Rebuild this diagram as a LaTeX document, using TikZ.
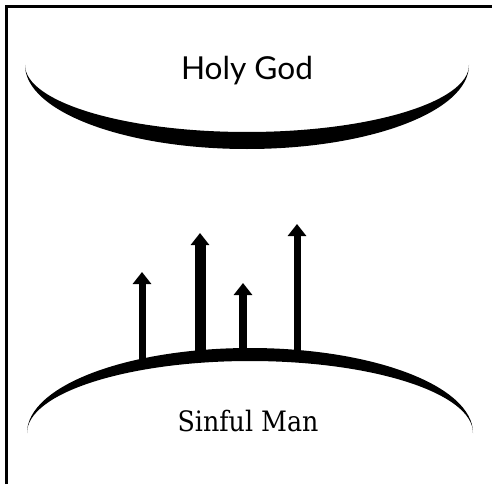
\documentclass[tikz,border=0pt]{standalone}
\usepackage{fontspec}
\setmainfont{Lato}
\newfontfamily\manfont{DejaVu Serif Condensed}
\usetikzlibrary{arrows.meta}

\begin{document}
\begin{tikzpicture}[x=0.02cm, y=0.02cm,
    lift/.style={line width=#1, -{Triangle[width=0.36cm, length=0.24cm]}},
    lift/.default=0.14cm]
            \useasboundingbox (0,0) rectangle (492,484);
            \draw[line width=0.07cm] (6.5,0) -- (6.5,477.5) -- (492,477.5);

            \node (god) at (247,413) {\fontsize{18}{21}\selectfont Holy God};
            \node (man) at (248,63) {\manfont\fontsize{16}{19}\selectfont Sinful Man};

            \coordinate (b1) at (142,120);
            \coordinate (t1) at (142,212);
            \coordinate (b2) at (200,125);
            \coordinate (t2) at (200,251);
            \coordinate (b3) at (243,128);
            \coordinate (t3) at (243,201);
            \coordinate (b4) at (297,128);
            \coordinate (t4) at (297,260);

            \draw[lift] (b1) -- (t1);
            \draw[lift=0.22cm] (b2) -- (t2);
            \draw[lift=0.16cm] (b3) -- (t3);
            \draw[lift] (b4) -- (t4);

            \fill (25,419) arc[start angle=180, end angle=360, x radius=222, y radius=84]
                -- (469,419) arc[start angle=360, end angle=180, x radius=222, y radius=67] -- cycle;
            \fill (27,51) arc[start angle=180, end angle=0, x radius=223, y radius=85]
                -- (473,51) arc[start angle=0, end angle=180, x radius=223, y radius=72] -- cycle;
        \end{tikzpicture}
\end{document}
